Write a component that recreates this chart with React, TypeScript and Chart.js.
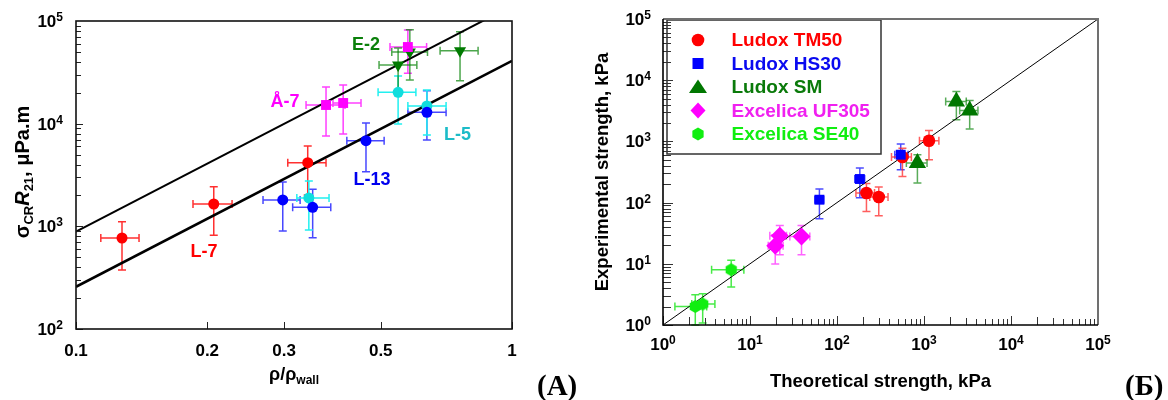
import React, { useEffect, useRef } from 'react';
import { Chart, registerables } from 'chart.js';

Chart.register(...registerables);

const FONT = '"Liberation Sans", Arial, Helvetica, sans-serif';

// ---------------- Panel (A) ----------------
// rows: [rho/rho_wall, sigma_CR*R21, xLow, xHigh, yLow, yHigh]
const seriesL7 = [
  [0.1275, 770, 0.114, 0.1395, 376, 1110],
  [0.207, 1650, 0.1855, 0.228, 818, 2430],
  [0.34, 4170, 0.306, 0.3745, 2020, 6060],
];
const seriesL13 = [
  [0.298, 1806, 0.2685, 0.3266, 900, 2700],
  [0.349, 1532, 0.314, 0.384, 774, 2296],
  [0.4625, 6820, 0.418, 0.509, 3400, 10150],
  [0.638, 12900, 0.577, 0.706, 6940, 20900],
];
const seriesL5 = [
  [0.342, 1890, 0.321, 0.3805, 920, 2770],
  [0.548, 20200, 0.493, 0.602, 9930, 29100],
  [0.638, 14900, 0.577, 0.706, 7770, 21300],
];
const seriesA7 = [
  [0.3745, 15200, 0.337, 0.414, 7590, 22800],
  [0.41, 15900, 0.3885, 0.4505, 7930, 23800],
  [0.577, 55800, 0.525, 0.637, 30900, 81700],
];
const seriesE2 = [
  [0.548, 37270, 0.4955, 0.605, 20300, 54600],
  [0.583, 49900, 0.53, 0.64, 26600, 82000],
  [0.76, 51400, 0.684, 0.836, 26200, 78700],
];
const lineUpper = [[0.1, 887], [1, 140600]];
const lineLower = [[0.1, 258], [1, 40900]];
const xTicksA = [0.1, 0.2, 0.3, 0.5, 1];
const xTickLabelsA = ['0.1', '0.2', '0.3', '0.5', '1'];
const yTickExpA = [2, 3, 4, 5];
const sampleNames = ['E-2', 'Å-7', 'L-5', 'L-13', 'L-7'];
const sampleLabelX = [0.4625, 0.3016, 0.75, 0.4775, 0.1966];
const sampleLabelY = [58400, 16260, 7760, 2827, 562];

// ---------------- Panel (Б) ----------------
// rows: [theoretical, experimental, xLow, xHigh, yLow, yHigh]
const legendNames = ['Ludox TM50', 'Ludox HS30', 'Ludox SM', 'Excelica UF305', 'Excelica SE40'];
const ludoxTM50 = [
  [218, 143.6, 165, 270, 71.8, 205],
  [302, 123.5, 238, 386, 61, 180],
  [565, 556, 423, 716, 268, 770],
  [1141, 1026, 887, 1483, 502, 1513],
];
const ludoxHS30 = [
  [62.8, 111.5, 55.6, 70.5, 54.6, 167],
  [183, 243, 160, 208, 120, 368],
  [540, 606, 461, 656, 345, 907],
];
const ludoxSM = [
  [840, 444, 627, 1084, 209, 606],
  [2355, 4505, 1775, 3060, 2263, 6560],
  [3350, 3210, 2570, 4170, 1596, 4680],
];
const excelicaUF305 = [
  [19.5, 19.8, 16.2, 24, 9.9, 29.9],
  [22, 28.8, 16.9, 26.3, 14.1, 42.4],
  [39.1, 28, 28.7, 48.7, 14.1, 42.4],
];
const excelicaSE40 = [
  [2.35, 2.01, 1.37, 3.18, 1.0, 3.13],
  [2.86, 2.2, 2.14, 3.95, 1.08, 3.24],
  [6.08, 8.0, 3.62, 8.5, 4.18, 11.4],
];
const identityLine = [[1, 1], [1e5, 1e5]];
const tickExpB = [0, 1, 2, 3, 4, 5];

// ---------------- helpers ----------------
type Seg = { t: string; font: string; dy?: number };

function drawSegs(ctx: CanvasRenderingContext2D, segs: Seg[], x: number, y: number, align: 'left' | 'center' | 'right') {
  let total = 0;
  const widths = segs.map((s) => {
    ctx.font = s.font;
    const w = ctx.measureText(s.t).width;
    total += w;
    return w;
  });
  let cx = align === 'left' ? x : align === 'center' ? x - total / 2 : x - total;
  ctx.textAlign = 'left';
  ctx.textBaseline = 'alphabetic';
  segs.forEach((s, i) => {
    ctx.font = s.font;
    ctx.fillText(s.t, cx, y + (s.dy || 0));
    cx += widths[i];
  });
}

function drawPow(ctx: CanvasRenderingContext2D, exp: number, x: number, yMid: number, align: 'right' | 'center') {
  drawSegs(
    ctx,
    [
      { t: '10', font: `bold 17px ${FONT}`, dy: 6 },
      { t: String(exp), font: `bold 12px ${FONT}`, dy: 0 },
    ],
    x,
    yMid,
    align
  );
}

const errorBarsPlugin = {
  id: 'errorBars',
  beforeDatasetsDraw(chart: any) {
    const { ctx } = chart;
    const x = chart.scales.x;
    const y = chart.scales.y;
    ctx.save();
    chart.data.datasets.forEach((ds: any) => {
      if (!ds.errorRows) return;
      ctx.strokeStyle = ds.errorColor;
      ctx.lineWidth = 1.5;
      const cap = ds.errorCap || 4;
      ds.errorRows.forEach((r: number[]) => {
        const px = x.getPixelForValue(r[0]);
        const py = y.getPixelForValue(r[1]);
        const x0 = x.getPixelForValue(r[2]);
        const x1 = x.getPixelForValue(r[3]);
        const y0 = y.getPixelForValue(r[4]);
        const y1 = y.getPixelForValue(r[5]);
        ctx.beginPath();
        ctx.moveTo(x0, py); ctx.lineTo(x1, py);
        ctx.moveTo(x0, py - cap); ctx.lineTo(x0, py + cap);
        ctx.moveTo(x1, py - cap); ctx.lineTo(x1, py + cap);
        ctx.moveTo(px, y0); ctx.lineTo(px, y1);
        ctx.moveTo(px - cap, y0); ctx.lineTo(px + cap, y0);
        ctx.moveTo(px - cap, y1); ctx.lineTo(px + cap, y1);
        ctx.stroke();
      });
    });
    ctx.restore();
  },
};

function toXY(rows: number[][]) {
  return rows.map((r) => ({ x: r[0], y: r[1] }));
}

function lineDs(rows: number[][], width: number) {
  return {
    label: '',
    data: toXY(rows),
    showLine: true,
    borderColor: '#000',
    backgroundColor: '#000',
    borderWidth: width,
    pointRadius: 0,
    pointHoverRadius: 0,
    clip: 0,
    order: 10,
  };
}

function pointDs(label: string, rows: number[][], color: string, errColor: string, style: any, radius: number, rotation = 0) {
  return {
    label,
    data: toXY(rows),
    pointStyle: style,
    pointRadius: radius,
    pointHoverRadius: radius,
    pointRotation: rotation,
    backgroundColor: color,
    borderColor: color,
    borderWidth: 0,
    errorRows: rows,
    errorColor: errColor,
    errorCap: 4,
    order: 0,
  };
}

function makeHexagon(color: string, r: number) {
  const c = document.createElement('canvas');
  const size = Math.ceil(r * 2 + 2);
  c.width = size;
  c.height = size;
  const g = c.getContext('2d')!;
  g.fillStyle = color;
  g.beginPath();
  for (let i = 0; i < 6; i++) {
    const a = -Math.PI / 2 + (i * Math.PI) / 3;
    const px = size / 2 + r * Math.cos(a);
    const py = size / 2 + r * Math.sin(a);
    if (i === 0) g.moveTo(px, py);
    else g.lineTo(px, py);
  }
  g.closePath();
  g.fill();
  return c;
}

// ---------------- Panel A decorations ----------------
const sampleColors = ['#0B800B', '#FF00FF', '#1CBCC8', '#0000EE', '#FF0000'];

const decorA = {
  id: 'decorA',
  afterDraw(chart: any) {
    const { ctx, chartArea: a } = chart;
    const x = chart.scales.x;
    const y = chart.scales.y;
    ctx.save();
    // ticks
    ctx.strokeStyle = '#222';
    ctx.lineWidth = 1;
    ctx.beginPath();
    for (let i = 0; i < yTickExpA.length - 1; i++) {
      const e = yTickExpA[i];
      for (let m = 1; m <= 9; m++) {
        const py = Math.round(y.getPixelForValue(m * Math.pow(10, e))) + 0.5;
        const len = m === 1 ? 7 : 5;
        ctx.moveTo(a.left, py);
        ctx.lineTo(a.left + len, py);
      }
    }
    xTicksA.forEach((v) => {
      const px = Math.round(x.getPixelForValue(v)) + 0.5;
      ctx.moveTo(px, a.bottom);
      ctx.lineTo(px, a.bottom - 7);
    });
    ctx.stroke();
    // frame
    ctx.strokeStyle = '#111';
    ctx.lineWidth = 1.6;
    ctx.strokeRect(a.left, a.top, a.right - a.left, a.bottom - a.top);
    // tick labels
    ctx.fillStyle = '#000';
    xTicksA.forEach((v, i) => {
      ctx.font = `bold 17px ${FONT}`;
      ctx.textAlign = 'center';
      ctx.textBaseline = 'alphabetic';
      ctx.fillText(xTickLabelsA[i], x.getPixelForValue(v), a.bottom + 27);
    });
    yTickExpA.forEach((e) => {
      drawPow(ctx, e, a.left - 13, y.getPixelForValue(Math.pow(10, e)), 'right');
    });
    // axis titles
    const cx = (a.left + a.right) / 2;
    drawSegs(
      ctx,
      [
        { t: 'ρ/ρ', font: `bold 18px ${FONT}` },
        { t: 'wall', font: `bold 12px ${FONT}`, dy: 4 },
      ],
      cx,
      380,
      'center'
    );
    ctx.save();
    ctx.translate(29, (a.top + a.bottom) / 2 - 3);
    ctx.rotate(-Math.PI / 2);
    drawSegs(
      ctx,
      [
        { t: 'σ', font: `bold 20px ${FONT}` },
        { t: 'CR', font: `bold 13px ${FONT}`, dy: 4 },
        { t: 'R', font: `italic bold 20px ${FONT}` },
        { t: '21', font: `bold 13px ${FONT}`, dy: 4 },
        { t: ', μPa.m', font: `bold 20px ${FONT}` },
      ],
      0,
      0,
      'center'
    );
    ctx.restore();
    // sample labels
    ctx.font = `bold 18px ${FONT}`;
    ctx.textAlign = 'center';
    ctx.textBaseline = 'middle';
    sampleNames.forEach((n, i) => {
      ctx.fillStyle = sampleColors[i];
      ctx.fillText(n, x.getPixelForValue(sampleLabelX[i]), y.getPixelForValue(sampleLabelY[i]));
    });
    ctx.restore();
  },
};

function buildA() {
  return {
    type: 'scatter',
    data: {
      datasets: [
        lineDs(lineUpper, 2),
        lineDs(lineLower, 2.6),
        pointDs('Å-7', seriesA7, '#FF00FF', '#FF40FF', 'rect', 7),
        pointDs('L-13', seriesL13, '#0000FF', 'rgba(40,40,255,0.85)', 'circle', 5.5),
        pointDs('L-7', seriesL7, '#FF0000', '#FF3030', 'circle', 5.5),
        pointDs('L-5', seriesL5, '#11DDDD', '#22F0F0', 'circle', 5.5),
        pointDs('E-2', seriesE2, '#007A00', 'rgba(0,128,0,0.7)', 'triangle', 7, 180),
      ],
    },
    options: {
      responsive: false,
      animation: false,
      events: [],
      layout: { padding: { left: 0, top: 21, right: 78, bottom: 0 } },
      plugins: { legend: { display: false }, tooltip: { enabled: false }, title: { display: false } },
      scales: {
        x: {
          type: 'logarithmic',
          min: 0.1,
          max: 1,
          ticks: { display: false },
          grid: { display: false },
          border: { display: false },
          afterFit: (s: any) => { s.height = 71; },
        },
        y: {
          type: 'logarithmic',
          min: 100,
          max: 1e5,
          ticks: { display: false },
          grid: { display: false },
          border: { display: false },
          afterFit: (s: any) => { s.width = 76; },
        },
      },
    },
    plugins: [errorBarsPlugin, decorA],
  };
}

// ---------------- Panel Б decorations ----------------
const legendColors = ['#FF0000', '#0000FF', '#007700', '#FF00FF', '#11EE11'];
const legendTextColors = ['#FF0000', '#0A0AF0', '#0A7A0A', '#F020F0', '#10EE10'];
const legendKinds = ['circle', 'square', 'triangle', 'diamond', 'hexagon'];

function drawMarker(ctx: CanvasRenderingContext2D, kind: string, cx: number, cy: number, color: string) {
  ctx.fillStyle = color;
  ctx.beginPath();
  if (kind === 'circle') ctx.arc(cx, cy, 6.3, 0, Math.PI * 2);
  else if (kind === 'square') ctx.rect(cx - 5.5, cy - 5.5, 11, 11);
  else if (kind === 'triangle') {
    ctx.moveTo(cx, cy - 7.5);
    ctx.lineTo(cx + 9, cy + 6);
    ctx.lineTo(cx - 9, cy + 6);
    ctx.closePath();
  } else if (kind === 'diamond') {
    ctx.moveTo(cx, cy - 8);
    ctx.lineTo(cx + 7.5, cy);
    ctx.lineTo(cx, cy + 8);
    ctx.lineTo(cx - 7.5, cy);
    ctx.closePath();
  } else {
    for (let i = 0; i < 6; i++) {
      const ang = -Math.PI / 2 + (i * Math.PI) / 3;
      const px = cx + 6.5 * Math.cos(ang);
      const py = cy + 6.5 * Math.sin(ang);
      if (i === 0) ctx.moveTo(px, py);
      else ctx.lineTo(px, py);
    }
    ctx.closePath();
  }
  ctx.fill();
}

const decorB = {
  id: 'decorB',
  afterDraw(chart: any) {
    const { ctx, chartArea: a } = chart;
    const x = chart.scales.x;
    const y = chart.scales.y;
    ctx.save();
    // legend box
    const bl = a.left + 4;
    const bt = a.top + 1;
    ctx.strokeStyle = '#333';
    ctx.lineWidth = 1.5;
    ctx.strokeRect(bl, bt, 214, 134);
    legendNames.forEach((n, i) => {
      const ry = bt + 20 + i * 23.5;
      drawMarker(ctx, legendKinds[i], bl + 31, ry, legendColors[i]);
      ctx.fillStyle = legendTextColors[i];
      ctx.font = `bold 19px ${FONT}`;
      ctx.textAlign = 'left';
      ctx.textBaseline = 'middle';
      ctx.fillText(n, bl + 64.5, ry + 1);
    });
    // ticks
    ctx.strokeStyle = '#333';
    ctx.lineWidth = 1;
    ctx.beginPath();
    for (let i = 0; i < tickExpB.length - 1; i++) {
      const e = tickExpB[i];
      for (let m = 1; m <= 9; m++) {
        const v = m * Math.pow(10, e);
        const py = Math.round(y.getPixelForValue(v)) + 0.5;
        ctx.moveTo(a.left, py);
        ctx.lineTo(a.left + (m === 1 ? 10 : 8), py);
        const px = Math.round(x.getPixelForValue(v)) + 0.5;
        const len = m === 1 ? 9 : m === 2 ? 8 : m === 3 ? 7 : 6;
        ctx.moveTo(px, a.bottom);
        ctx.lineTo(px, a.bottom - len);
      }
    }
    ctx.stroke();
    // frame
    ctx.strokeStyle = '#707070';
    ctx.lineWidth = 2;
    ctx.beginPath();
    ctx.moveTo(a.left, a.top);
    ctx.lineTo(a.right, a.top);
    ctx.lineTo(a.right, a.bottom);
    ctx.stroke();
    ctx.strokeStyle = '#000';
    ctx.lineWidth = 1.6;
    ctx.beginPath();
    ctx.moveTo(a.left, a.top);
    ctx.lineTo(a.left, a.bottom);
    ctx.lineTo(a.right, a.bottom);
    ctx.stroke();
    // tick labels
    ctx.fillStyle = '#000';
    tickExpB.forEach((e) => {
      drawPow(ctx, e, x.getPixelForValue(Math.pow(10, e)), a.bottom + 19, 'center');
      drawPow(ctx, e, a.left - 12, y.getPixelForValue(Math.pow(10, e)), 'right');
    });
    // titles
    ctx.font = `bold 18.5px ${FONT}`;
    ctx.textAlign = 'center';
    ctx.textBaseline = 'alphabetic';
    ctx.fillText('Theoretical strength, kPa', (a.left + a.right) / 2, 387);
    ctx.save();
    ctx.translate(18, (a.top + a.bottom) / 2);
    ctx.rotate(-Math.PI / 2);
    ctx.fillText('Experimental strength, kPa', 0, 0);
    ctx.restore();
    ctx.restore();
  },
};

function buildB() {
  const hex = makeHexagon('#11EE11', 6.5);
  return {
    type: 'scatter',
    data: {
      datasets: [
        lineDs(identityLine, 1),
        pointDs(legendNames[1], ludoxHS30, '#0000FF', 'rgba(30,30,255,0.8)', 'rect', 7),
        pointDs(legendNames[0], ludoxTM50, '#FF0000', 'rgba(255,40,40,0.75)', 'circle', 6.3),
        pointDs(legendNames[2], ludoxSM, '#007700', 'rgba(0,128,0,0.65)', 'triangle', 10),
        pointDs(legendNames[3], excelicaUF305, '#FF00FF', 'rgba(255,60,255,0.8)', 'rectRot', 9),
        pointDs(legendNames[4], excelicaSE40, '#11EE11', 'rgba(40,230,40,0.85)', hex, 6.5),
      ],
    },
    options: {
      responsive: false,
      animation: false,
      events: [],
      layout: { padding: { left: 0, top: 19, right: 70, bottom: 0 } },
      plugins: { legend: { display: false }, tooltip: { enabled: false }, title: { display: false } },
      scales: {
        x: {
          type: 'logarithmic',
          min: 1,
          max: 1e5,
          ticks: { display: false },
          grid: { display: false },
          border: { display: false },
          afterFit: (s: any) => { s.height = 75; },
        },
        y: {
          type: 'logarithmic',
          min: 1,
          max: 1e5,
          ticks: { display: false },
          grid: { display: false },
          border: { display: false },
          afterFit: (s: any) => { s.width = 73; },
        },
      },
    },
    plugins: [errorBarsPlugin, decorB],
  };
}

function ChartCanvas({ left, width, build }: { left: number; width: number; build: () => any }) {
  const ref = useRef<HTMLCanvasElement>(null);
  useEffect(() => {
    const chart = new Chart(ref.current as HTMLCanvasElement, build());
    return () => chart.destroy();
  }, []);
  return (
    <canvas
      ref={ref}
      width={width}
      height={400}
      style={{ position: 'absolute', left, top: 0, width, height: 400 }}
    />
  );
}

const panelLabelStyle: React.CSSProperties = {
  position: 'absolute',
  top: 371,
  font: 'bold 29px "Liberation Serif", "Times New Roman", serif',
  lineHeight: '29px',
  color: '#000',
  whiteSpace: 'nowrap',
};

export default function App() {
  return (
    <div style={{ position: 'absolute', left: 0, top: 0, width: 1168, height: 400, background: '#fff', overflow: 'hidden' }}>
      <ChartCanvas left={0} width={590} build={buildA} />
      <ChartCanvas left={590} width={578} build={buildB} />
      <span style={{ ...panelLabelStyle, left: 537 }}>(A)</span>
      <span style={{ ...panelLabelStyle, left: 1125 }}>(Б)</span>
    </div>
  );
}
